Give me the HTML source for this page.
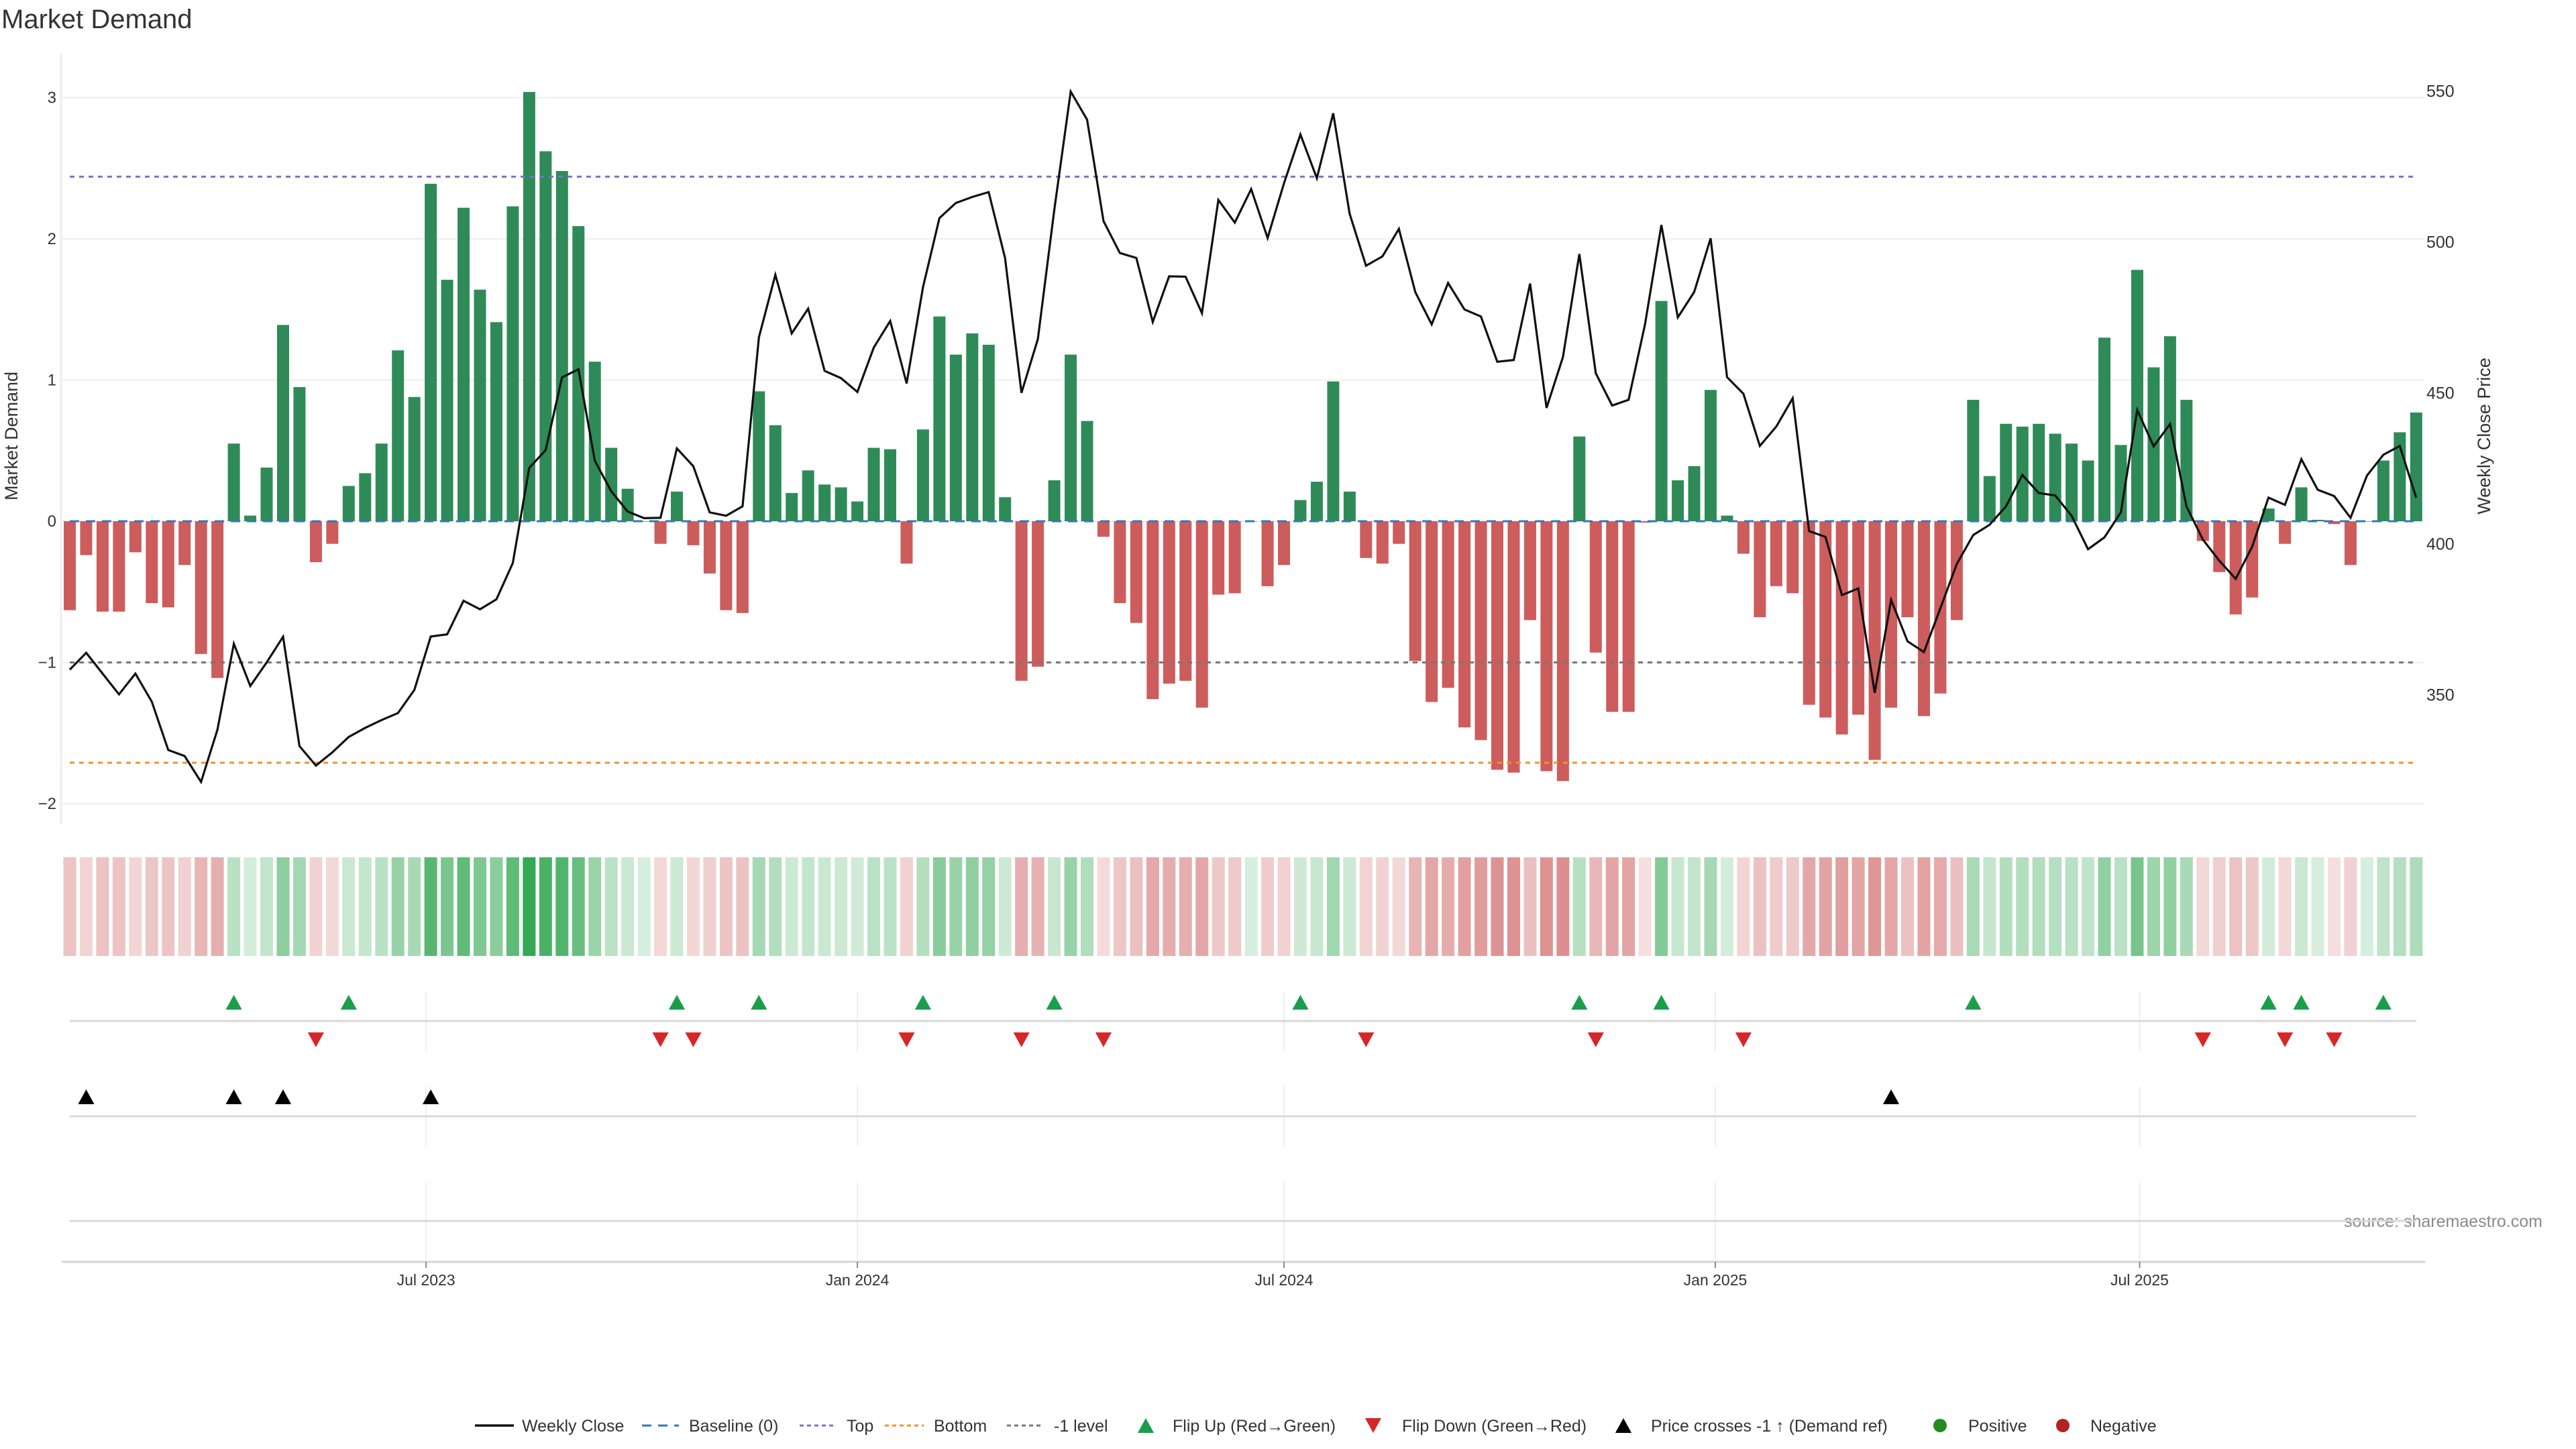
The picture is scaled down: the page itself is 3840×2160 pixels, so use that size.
<!DOCTYPE html>
<html><head><meta charset="utf-8"><title>Market Demand</title>
<style>
html,body{margin:0;padding:0;background:#fff;}
svg{display:block;font-family:"Liberation Sans","DejaVu Sans",sans-serif;}
</style></head>
<body>
<svg id="chart" width="3840" height="2160" viewBox="0 0 3840 2160" xmlns="http://www.w3.org/2000/svg">
  <text x="2" y="42" font-size="40" fill="#333">Market Demand</text>
  <text transform="translate(26,650) rotate(-90)" text-anchor="middle" font-size="27" fill="#333">Market Demand</text>
  <text transform="translate(3712,650) rotate(-90)" text-anchor="middle" font-size="27" fill="#333">Weekly Close Price</text>
  <text x="3790" y="1829" text-anchor="end" font-size="25" fill="#8a8a8a">source: sharemaestro.com</text>
  <g id="grid"></g><g id="heat"></g><g id="bars"></g><g id="refs"></g><g id="price"></g><g id="lower"></g><g id="legend"></g>
</svg>
<script>
// ---- data ----
const startDate = "2023-01-30";
const demand = [-0.63,-0.24,-0.64,-0.64,-0.22,-0.58,-0.61,-0.31,-0.94,-1.11,0.55,0.04,0.38,1.39,0.95,-0.29,-0.16,0.25,0.34,0.55,1.21,0.88,2.39,1.71,2.22,1.64,1.41,2.23,3.04,2.62,2.48,2.09,1.13,0.52,0.23,0.0,-0.16,
0.21,-0.17,-0.37,-0.63,-0.65,0.92,0.68,0.2,0.36,0.26,0.24,0.14,0.52,0.51,-0.3,0.65,1.45,1.18,1.33,1.25,0.17,-1.13,-1.03,0.29,1.18,0.71,-0.11,-0.58,-0.72,-1.26,-1.15,-1.13,-1.32,-0.52,-0.51,0,-0.46,-0.31,0.15,
0.28,0.99,0.21,-0.26,-0.3,-0.16,-0.99,-1.28,-1.18,-1.46,-1.55,-1.76,-1.78,-0.7,-1.77,-1.84,0.6,-0.93,-1.35,-1.35,-0.01,1.56,0.29,0.39,0.93,0.04,-0.23,-0.68,-0.46,-0.51,-1.3,-1.39,-1.51,-1.37,-1.69,-1.32,-0.68,
-1.38,-1.22,-0.7,0.86,0.32,0.69,0.67,0.69,0.62,0.55,0.43,1.3,0.54,1.78,1.09,1.31,0.86,-0.14,-0.36,-0.66,-0.54,0.09,-0.16,0.24,0.01,-0.02,-0.31,0,0.43,0.63,0.77];
const price = [358.3,363.9,357,350.1,357,347.7,331.7,329.7,321.1,338.4,366.9,352.9,360.7,369.2,333,326.5,330.9,336,339,341.6,343.9,351.6,369.3,370,381.1,378.3,381.6,393.6,425.1,431,455.1,457.8,427.5,417.4,410.7,408.5,408.6,431.6,
425.7,410.4,409.3,412.4,468.4,489.1,469.7,477.9,457.3,454.9,450.3,465,473.8,453.1,485,507.9,512.9,514.9,516.5,494.7,450,467.8,510.6,549.8,540.5,506.9,496.3,494.7,473.5,488.6,488.5,476.4,513.9,506.4,517.5,501.3,519.4,535.6,
521.1,542.6,509.3,492.1,495.2,504.3,483.4,472.7,486.4,477.6,475.3,460.3,460.9,486.2,445,461.9,496,456.5,445.8,447.7,472.7,505.6,475,483.4,501.2,455.2,449.7,432.4,438.8,448.2,404.2,402.3,383,385.2,350.6,
381.4,367.7,364.1,378.6,393.3,402.9,406.3,412.4,422.8,416.8,416,409.3,398.2,402.1,410.4,444.3,432.3,439.7,412.4,401.4,394.4,388.4,399,415.3,412.9,428,417.9,415.8,408.6,422.6,429.5,432.4,415.3];
const flipUp = [10,17,37,42,52,60,75,92,97,116,134,136,141];
const flipDown = [15,36,38,51,58,63,79,93,102,130,135,138];
const priceCross = [1,10,13,22,111];
const leftTicks = [3,2,1,0,-1,-2];
const rightTicks = [550,500,450,400,350];
const dateTicks = ["2023-07-01","2024-01-01","2024-07-01","2025-01-01","2025-07-01"];
const dateTickLabels = ["Jul 2023","Jan 2024","Jul 2024","Jan 2025","Jul 2025"];
const topLevel = 2.44, minusOneLevel = -1, bottomLevel = -1.71, baseline = 0;

// ---- scales ----
const NS = "http://www.w3.org/2000/svg";
const X0 = 104, WEEK = 24.46, DAY = WEEK/7;
const t0 = Date.parse(startDate+"T00:00:00Z");
function xDate(s){ return X0 + (Date.parse(s+"T00:00:00Z")-t0)/86400000*DAY; }
function xi(i){ return X0 + i*WEEK; }
function yL(v){ return 777 - v*210.5; }
function yR(p){ return 135.6 + (550-p)*4.5; }
const PL = 93, PR = 3614;
function mk(tag, attrs, parent){ const e=document.createElementNS(NS,tag); for(const k in attrs) e.setAttribute(k,attrs[k]); parent.appendChild(e); return e; }
const G = id=>document.getElementById(id);

// grid + ticks
const grid = G("grid");
mk("line",{x1:91,y1:80,x2:91,y2:1228,stroke:"#ebedf0","stroke-width":3},grid);
leftTicks.forEach(v=>{
  const l = mk("line",{x1:PL,x2:PR,y1:yL(v),y2:yL(v),stroke:"#eef0f4","stroke-width":2.5},grid);
  
  
  const t = mk("text",{x:84,y:yL(v)+8,"text-anchor":"end","font-size":24,fill:"#333"},grid);
  t.textContent = v<0 ? "\u2212"+Math.abs(v) : String(v);
  
  
});
rightTicks.forEach(p=>{
  const t = mk("text",{x:3617,y:yR(p)+9,"font-size":25,fill:"#333"},grid);
  t.textContent = String(p);
  
  
});

// heat strip
const heat = G("heat");
demand.forEach((v,i)=>{
  const a = Math.min(1, 0.2 + 0.8*Math.abs(v)/3.04);
  const base = v>=0 ? [52,168,83] : [205,92,92];
  const c = base.map(b=>Math.round(255-(255-b)*a));
  const r = mk("rect",{x:xi(i)-9.5,y:1278,width:19,height:147,fill:`rgb(${c[0]},${c[1]},${c[2]})`},heat);
  
  
});

// bars
const bars = G("bars");
demand.forEach((v,i)=>{
  const y0 = yL(0), y1 = yL(v);
  const r = mk("rect",{x:xi(i)-9,y:Math.min(y0,y1),width:18,height:Math.max(Math.abs(y1-y0),0.5),fill:v>=0?"#2e8b57":"#cd5c5c"},bars);
  
  
});

// reference lines
const refs = G("refs");
[[baseline,"#2f7bb6","14 10",3],[topLevel,"#7b6fd6","7 7",3],[minusOneLevel,"#777","7 7",3],[bottomLevel,"#f0922b","7 7",3]].forEach(([v,c,d,w],k)=>{
  const l = mk("line",{x1:104,x2:3602,y1:yL(v),y2:yL(v),stroke:c,"stroke-dasharray":d,"stroke-width":w},refs);
  
  
});

// price line
const pl = mk("polyline",{points:price.map((p,i)=>xi(i).toFixed(1)+","+yR(p).toFixed(1)).join(" "),fill:"none",stroke:"#111","stroke-width":3.2,"stroke-linejoin":"miter"},G("price"));



// lower panels
const lower = G("lower");
[[1478,1567],[1620,1708],[1763,1880]].forEach(([a,b])=>{
  dateTicks.forEach(d=>{
    const l = mk("line",{x1:xDate(d),x2:xDate(d),y1:a,y2:b,stroke:"#eceef1","stroke-width":2},lower);
    
    
  });
});
[1522,1664,1820].forEach(y=>{
  const l = mk("line",{x1:104,x2:3602,y1:y,y2:y,stroke:"#d8d8d8","stroke-width":3},lower);
  
  
});
const ax = mk("line",{x1:92,x2:3615,y1:1881,y2:1881,stroke:"#d4d4d4","stroke-width":3},lower);


dateTicks.forEach((d,k)=>{
  const x = xDate(d);
  const tk = mk("line",{x1:x,x2:x,y1:1881,y2:1890,stroke:"#888","stroke-width":2},lower);
  
  
  const t = mk("text",{x:x,y:1916,"text-anchor":"middle","font-size":23,fill:"#333"},lower);
  t.textContent = dateTickLabels[k];
  
  
});
function tri(x,y,up,fill,name,parent){
  const s=11;
  const pts = up ? `${x},${y-s} ${x-s*1.1},${y+s} ${x+s*1.1},${y+s}` : `${x},${y+s} ${x-s*1.1},${y-s} ${x+s*1.1},${y-s}`;
  const p = mk("polygon",{points:pts,fill:fill},parent);
  
  
}
flipUp.forEach(i=>tri(xi(i),1494,true,"#1a9e4a","flip-up-marker",lower));
flipDown.forEach(i=>tri(xi(i),1550,false,"#d62728","flip-down-marker",lower));
priceCross.forEach(i=>tri(xi(i),1635,true,"#000","price-cross-marker",lower));

// legend
const lg = G("legend"); const LY = 2125;
function ltext(x,s){ const t=mk("text",{x:x,y:LY+9,"font-size":25,fill:"#333"},lg); t.textContent=s;   }
function lline(x1,x2,c,d,w,name){ const l=mk("line",{x1:x1,x2:x2,y1:LY,y2:LY,stroke:c,"stroke-width":w},lg); if(d) l.setAttribute("stroke-dasharray",d);   }
lline(708,766,"#111",null,3.5,"legend-weekly-close"); ltext(778,"Weekly Close");
lline(957,1012,"#2f7bb6","14 10",3,"legend-baseline"); ltext(1027,"Baseline (0)");
lline(1192,1247,"#7b6fd6","6 5",3,"legend-top"); ltext(1262,"Top");
lline(1319,1377,"#f0922b","6 5",3,"legend-bottom"); ltext(1392,"Bottom");
lline(1501,1554,"#777","6 5",3,"legend-minus-one"); ltext(1571,"-1 level");
tri(1708,LY,true,"#1a9e4a","legend-flip-up",lg); ltext(1748,"Flip Up (Red\u2192Green)");
tri(2047,LY,false,"#d62728","legend-flip-down",lg); ltext(2090,"Flip Down (Green\u2192Red)");
tri(2420,LY,true,"#000","legend-price-cross",lg); ltext(2461,"Price crosses -1 \u2191 (Demand ref)");
const c1 = mk("circle",{cx:2892,cy:LY,r:10,fill:"#228b22"},lg);


ltext(2934,"Positive");
const c2 = mk("circle",{cx:3075,cy:LY,r:10,fill:"#b22222"},lg);


ltext(3116,"Negative");
</script>
</body></html>
